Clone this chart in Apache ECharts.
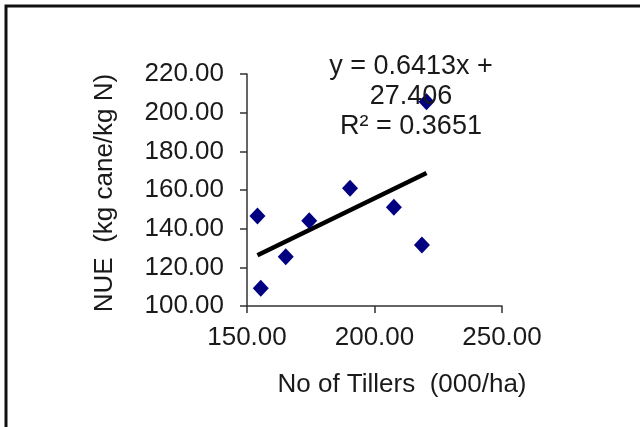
<!DOCTYPE html>
<html>
<head>
<meta charset="utf-8">
<script src="https://cdn.jsdelivr.net/npm/echarts@6/dist/echarts.min.js"></script>
<style>
  html, body { margin: 0; padding: 0; background: #fff; }
  #chart { width: 640px; height: 427px; }
</style>
</head>
<body>
<div id="chart"></div>
<script>
// Tillers per hectare (thousands) against nitrogen use efficiency
const tillers = [154.1, 155.4, 165.2, 174.4, 190.4, 207.6, 218.6, 220.4];
const nue     = [146.6, 109.2, 125.5, 144.1, 160.9, 151.1, 131.6, 205.7];

// Linear trend as reported on the chart
const slope = 0.6413;
const intercept = 27.406;
const rSquared = 0.3651;

const xTicks = [150, 200, 250];
const yTicks = [100, 120, 140, 160, 180, 200, 220];

const font = "'Liberation Sans', Arial, sans-serif";
const textColor = '#1a1a1a';

const points = tillers.map((x, i) => [x, nue[i]]);
const xMin = Math.min(...tillers);
const xMax = Math.max(...tillers);
const trend = [[xMin, slope * xMin + intercept], [xMax, slope * xMax + intercept]];

const chart = echarts.init(document.getElementById('chart'), null, { renderer: 'canvas' });

chart.setOption({
  animation: false,
  backgroundColor: '#fff',
  grid: { left: 247, right: 138, top: 74, bottom: 121 },
  xAxis: {
    type: 'value',
    min: xTicks[0],
    max: xTicks[xTicks.length - 1],
    interval: xTicks[1] - xTicks[0],
    axisLine: { show: true, onZero: false, lineStyle: { color: '#333', width: 1.5 } },
    axisTick: { show: true, length: 7, lineStyle: { color: '#333', width: 1.5 } },
    axisLabel: { margin: 19, color: textColor, fontFamily: font, fontSize: 26,
      formatter: v => v.toFixed(2) },
    splitLine: { show: false }
  },
  yAxis: {
    type: 'value',
    min: yTicks[0],
    max: yTicks[yTicks.length - 1],
    interval: yTicks[1] - yTicks[0],
    axisLine: { show: true, onZero: false, lineStyle: { color: '#333', width: 1.5 } },
    axisTick: { show: true, length: 7, lineStyle: { color: '#333', width: 1.5 } },
    axisLabel: { margin: 23, color: textColor, fontFamily: font, fontSize: 26,
      formatter: v => v.toFixed(2) },
    splitLine: { show: false }
  },
  series: [
    {
      type: 'line',
      data: trend,
      showSymbol: false,
      symbol: 'none',
      lineStyle: { color: '#000', width: 4.5 },
      z: 2
    },
    {
      type: 'scatter',
      data: points,
      symbol: 'diamond',
      symbolSize: [16, 17],
      itemStyle: { color: '#000080', opacity: 1 },
      z: 3
    }
  ],
  graphic: [
    {
      type: 'polyline',
      shape: { points: [[6, 427], [6, 6], [640, 6]] },
      style: { stroke: '#111', lineWidth: 3, fill: null },
      silent: true
    },
    {
      type: 'text',
      x: 411, y: 52,
      style: {
        text: 'y = 0.6413x +\n' + intercept.toFixed(3) + '\nR² = ' + rSquared.toFixed(4),
        font: '27px ' + font,
        fill: textColor,
        align: 'center',
        verticalAlign: 'top',
        lineHeight: 30
      },
      z: 10
    },
    {
      type: 'text',
      x: 402, y: 385,
      style: {
        text: 'No of Tillers  (000/ha)',
        font: '26px ' + font,
        fill: textColor,
        align: 'center',
        verticalAlign: 'middle'
      }
    },
    {
      type: 'text',
      x: 105, y: 193,
      rotation: Math.PI / 2,
      style: {
        text: 'NUE  (kg cane/kg N)',
        font: '26px ' + font,
        fill: textColor,
        align: 'center',
        verticalAlign: 'middle'
      }
    }
  ]
});
</script>
</body>
</html>
